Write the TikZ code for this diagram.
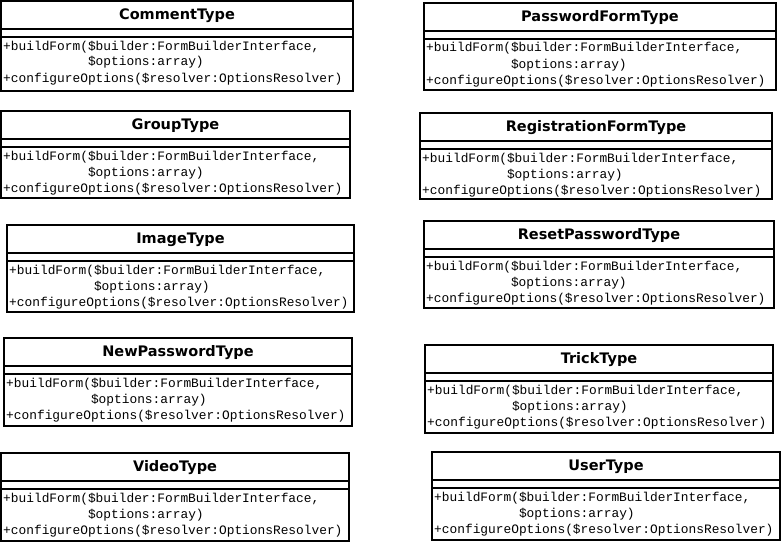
\documentclass[tikz,border=0pt]{standalone}
\usepackage{fontspec}
\newfontfamily\classtitlefont{DejaVu Sans}
\newfontfamily\classopfont{Liberation Mono}
\tikzset{
  x=1pt, y=-1pt,
  classframe/.style={draw=black, line width=1.6pt},
  classtitle/.style={font=\classtitlefont\bfseries\fontsize{14.5}{16}\selectfont, inner sep=0pt, anchor=center},
  classop/.style={font=\classopfont\fontsize{12.85}{15}\selectfont, inner sep=0pt, anchor=base west},
}
% UML class box: #1 id, #2 left, #3 top, #4 right, #5 bottom, #6 class name
\newcommand{\umlclassbox}[6]{%
  \coordinate (#1-nw) at (#2,#3);
  \coordinate (#1-se) at (#4,#5);
  \draw[classframe] (#1-nw) rectangle (#1-se);
  \node[classtitle] (#1-title) at ({(#2+#4)/2},#3+14.5) {#6};
  \draw[classframe] (#2,#3+28) -- (#4,#3+28);
  \draw[classframe] (#2,#3+36) -- (#4,#3+36);
  \node[classop] (#1-op1) at (#2+2,#3+49) {+buildForm(\$builder:FormBuilderInterface,};
  \node[classop] (#1-op2) at (#2+2,#3+65) {\phantom{+buildForm(}\$options:array)};
  \node[classop] (#1-op3) at (#2+2,#3+81) {+configureOptions(\$resolver:OptionsResolver)};
}
\begin{document}
\begin{tikzpicture}
  \fill[white] (0,0) rectangle (783,543);
  \useasboundingbox (0,0) rectangle (783,543);
  % left column
  \umlclassbox{comment}{1}{1}{353}{91}{CommentType}
  \umlclassbox{group}{1}{111}{350}{198}{GroupType}
  \umlclassbox{image}{7}{225}{354}{312}{ImageType}
  \umlclassbox{newpassword}{4}{338}{352}{426}{NewPasswordType}
  \umlclassbox{video}{1}{453}{349}{541}{VideoType}
  % right column
  \umlclassbox{passwordform}{424}{3}{776}{90}{PasswordFormType}
  \umlclassbox{registration}{420}{113}{772}{199}{RegistrationFormType}
  \umlclassbox{resetpassword}{424}{221}{774}{308}{ResetPasswordType}
  \umlclassbox{trick}{425}{345}{773}{433}{TrickType}
  \umlclassbox{user}{432}{452}{780}{540}{UserType}
\end{tikzpicture}
\end{document}
